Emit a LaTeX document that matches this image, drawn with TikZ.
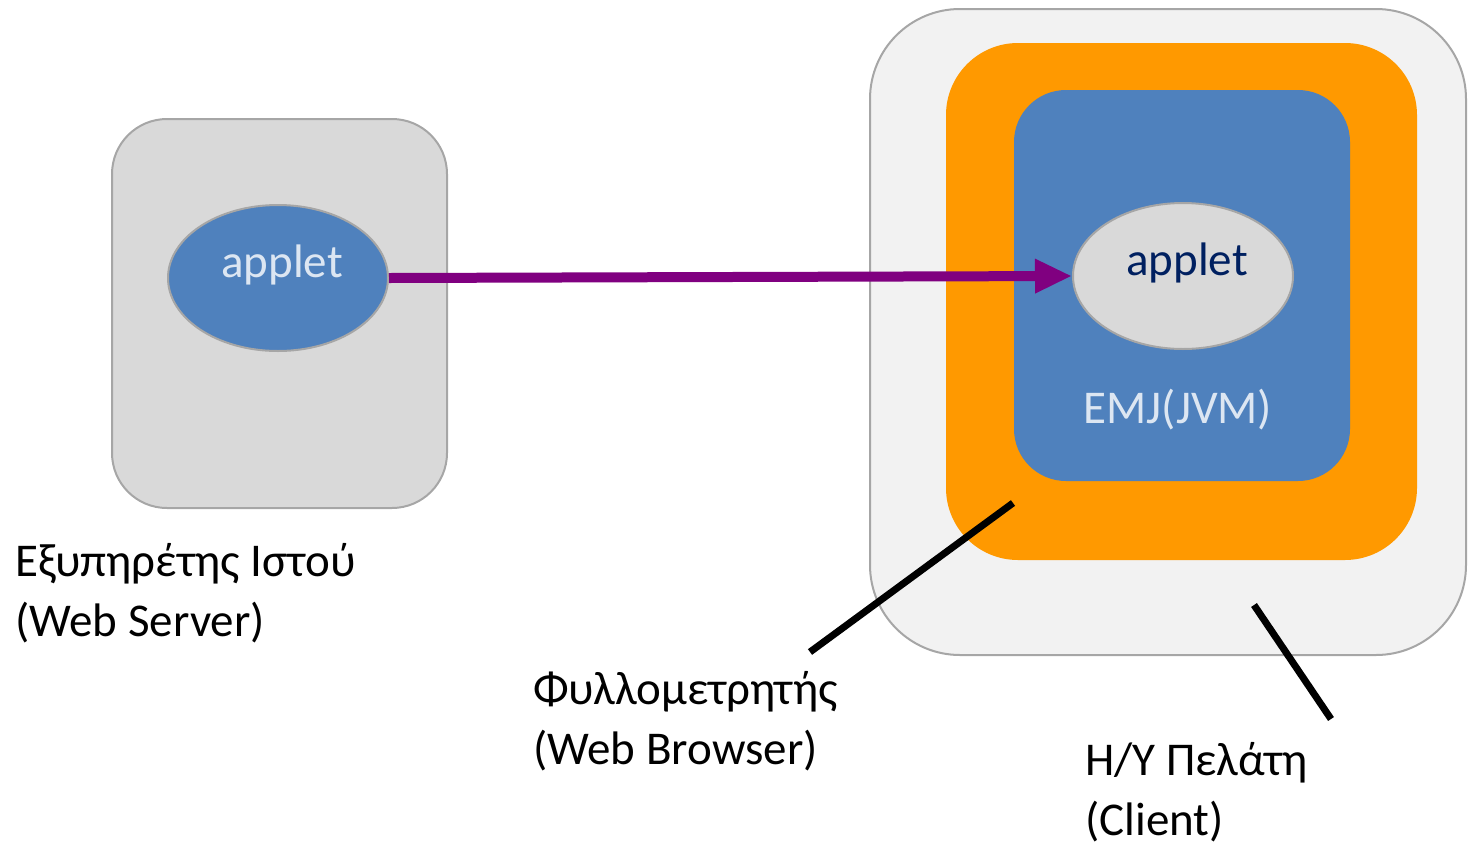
\documentclass[tikz,border=0pt]{standalone}
\usepackage{fontspec}
\setmainfont{Carlito}
\usetikzlibrary{shapes.geometric,arrows.meta}
\definecolor{boxgray}{HTML}{D9D9D9}
\definecolor{outergray}{HTML}{F2F2F2}
\definecolor{edgegray}{HTML}{A6A6A6}
\definecolor{jvmblue}{HTML}{4F81BD}
\definecolor{browserorange}{HTML}{FF9900}
\definecolor{lighttext}{HTML}{DCE6F2}
\definecolor{navytext}{HTML}{002060}
\definecolor{arrowpurple}{HTML}{800080}
\tikzset{
  bigfont/.style={font=\fontsize{47}{60}\selectfont},
  appletnode/.style={ellipse,draw=edgegray,line width=2pt,minimum width=220pt,minimum height=146pt,inner sep=0pt,bigfont,text height=34pt,text depth=36pt},
  caption/.style={bigfont,align=left,anchor=base west,inner sep=0pt},
  pointer/.style={line width=7pt,black},
}
\begin{document}
\begin{tikzpicture}[x=1pt,y=-1pt]
\useasboundingbox (0,0) rectangle (1468,847);
% left server box
\draw[fill=boxgray,draw=edgegray,line width=2pt,rounded corners=55pt] (112,119) rectangle (447,508);
% client box
\draw[fill=outergray,draw=edgegray,line width=2pt,rounded corners=90pt] (870,9) rectangle (1466,655);
% browser
\fill[browserorange,rounded corners=72pt] (946,43) rectangle (1417,560);
% JVM
\fill[jvmblue,rounded corners=52pt] (1014,90) rectangle (1350,481);
\node[appletnode,fill=jvmblue,text=lighttext] (src) at (278,278) {\hspace*{8pt}applet};
\node[appletnode,fill=boxgray,text=navytext] (dst) at (1183,276) {\hspace*{8pt}applet};
\node[bigfont,text=lighttext] (jvm) at (1178,410) {EMJ(JVM)};
\draw[arrowpurple,line width=10pt,-{Triangle[length=37pt,width=32pt]}] (src.east) -- (dst.west);
% captions (anchor at baseline of last line)
\node[caption] (server) at (15,636) {Εξυπηρέτης Ιστού\\(Web Server)};
\node[caption] (browser) at (533,764) {Φυλλομετρητής\\(Web Browser)};
\node[caption] (client) at (1085,835) {Η/Υ Πελάτη\\(Client)};
% pointer lines
\coordinate (bA) at (1013,503);
\coordinate (bB) at (810,652);
\coordinate (cA) at (1254,605);
\coordinate (cB) at (1331,719);
\draw[pointer] (bA) -- (bB);
\draw[pointer] (cA) -- (cB);
\end{tikzpicture}
\end{document}
